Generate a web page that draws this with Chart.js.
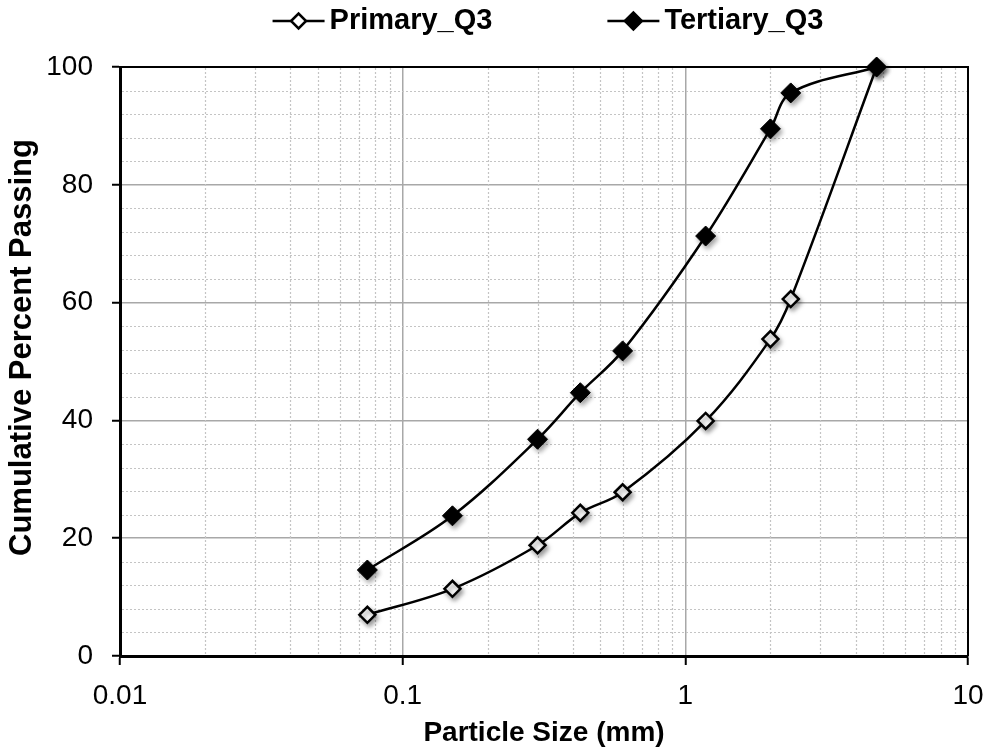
<!DOCTYPE html>
<html>
<head>
<meta charset="utf-8">
<title>Particle size distribution</title>
<script src="https://cdn.jsdelivr.net/npm/chart.js@4.4.1/dist/chart.umd.min.js"></script>
<style>
  html, body { margin: 0; padding: 0; background: #fff; }
</style>
</head>
<body>
<canvas id="psd" width="992" height="756"></canvas>
<script>
// sieve openings (mm) and cumulative % passing
const sieveSizes = [0.075, 0.15, 0.3, 0.425, 0.6, 1.18, 2.0, 2.36, 4.75];
const primaryQ3 = [7.0, 11.4, 18.8, 24.3, 27.8, 39.9, 53.8, 60.6, 100];
const tertiaryQ3 = [14.6, 23.8, 36.8, 44.7, 51.8, 71.3, 89.5, 95.6, 100];
const seriesNames = ['Primary_Q3', 'Tertiary_Q3'];
const xTicks = [0.01, 0.1, 1, 10];
const yTicks = [0, 20, 40, 60, 80, 100];
const yTitle = 'Cumulative Percent Passing';

const FONT = 'Arial, "Liberation Sans", sans-serif';
Chart.defaults.font.family = FONT;
Chart.defaults.color = '#000';

const pts = vals => sieveSizes.map((s, i) => ({ x: s, y: vals[i] }));

// dotted minor grid + top/right frame
const frame = {
  id: 'frame',
  beforeDatasetsDraw(chart) {
    const { ctx, chartArea: a, scales: { x, y } } = chart;
    ctx.save();
    ctx.strokeStyle = '#c4c4c4';
    ctx.lineWidth = 1.2;
    ctx.setLineDash([2, 2]);
    ctx.beginPath();
    for (let v = 4; v < 100; v += 4) {
      if (v % 20 === 0) continue;
      const py = Math.round(y.getPixelForValue(v)) + 0.5;
      ctx.moveTo(a.left + 2, py);
      ctx.lineTo(a.right - 1, py);
    }
    for (const d of [0.01, 0.1, 1]) {
      for (let k = 2; k <= 9; k++) {
        const px = Math.round(x.getPixelForValue(d * k)) + 0.5;
        ctx.moveTo(px, a.top + 1);
        ctx.lineTo(px, a.bottom - 2);
      }
    }
    ctx.stroke();
    ctx.setLineDash([]);
    ctx.strokeStyle = '#000';
    ctx.lineWidth = 2;
    ctx.beginPath();
    ctx.moveTo(a.left, a.top);
    ctx.lineTo(a.right, a.top);
    ctx.lineTo(a.right, a.bottom);
    ctx.stroke();
    ctx.restore();
  }
};

// soft shadow under the markers only
const markerShadow = {
  id: 'markerShadow',
  beforeDatasetDraw(chart, args) {
    if (chart.data.datasets[args.index].showLine) return;
    const ctx = chart.ctx;
    ctx.save();
    ctx.shadowColor = 'rgba(0,0,0,0.38)';
    ctx.shadowBlur = 5;
    ctx.shadowOffsetX = 2;
    ctx.shadowOffsetY = 3;
  },
  afterDatasetDraw(chart, args) {
    if (chart.data.datasets[args.index].showLine) return;
    chart.ctx.restore();
  }
};

// line + marker legend across the top, and the rotated y title
const seriesKey = {
  id: 'seriesKey',
  afterDraw(chart) {
    const { ctx, chartArea: a } = chart;
    ctx.save();
    ctx.font = 'bold 29px ' + FONT;
    ctx.textBaseline = 'middle';
    ctx.fillStyle = '#000';
    const symW = 52, gap = 5, itemGap = 115, y = 21;
    const widths = seriesNames.map(n => symW + gap + ctx.measureText(n).width);
    const total = widths.reduce((p, c) => p + c, 0) + itemGap * (widths.length - 1);
    let x = (a.left + a.right) / 2 + 4 - total / 2;
    seriesNames.forEach((name, i) => {
      ctx.strokeStyle = '#000';
      ctx.lineWidth = 2.5;
      ctx.beginPath();
      ctx.moveTo(x, y);
      ctx.lineTo(x + symW, y);
      ctx.stroke();
      const filled = i === 1;
      ctx.fillStyle = filled ? '#000' : '#fff';
      Chart.helpers.drawPoint(ctx, { pointStyle: 'rectRot', radius: filled ? 8.5 : 7.5, borderWidth: filled ? 1 : 2.5, rotation: 0 }, x + symW / 2, y);
      ctx.fillStyle = '#000';
      ctx.fillText(name, x + symW + gap, y);
      x += widths[i] + itemGap;
    });

    ctx.translate(22, (a.top + a.bottom) / 2 - 14);
    ctx.rotate(-Math.PI / 2);
    ctx.font = 'bold 31px ' + FONT;
    ctx.textAlign = 'center';
    ctx.fillText(yTitle, 0, 0);
    ctx.restore();
  }
};

new Chart(document.getElementById('psd'), {
  type: 'scatter',
  data: {
    datasets: [
      { label: seriesNames[1], data: pts(tertiaryQ3), showLine: false, pointStyle: 'rectRot',
        pointRadius: 10, pointBackgroundColor: '#000', pointBorderColor: '#000', pointBorderWidth: 1, order: 0, clip: false },
      { label: seriesNames[0], data: pts(primaryQ3), showLine: false, pointStyle: 'rectRot',
        pointRadius: 8, pointBackgroundColor: '#fff', pointBorderColor: '#000', pointBorderWidth: 2.5, order: 1, clip: false },
      { label: seriesNames[1], data: pts(tertiaryQ3), showLine: true, pointRadius: 0,
        borderColor: '#000', borderWidth: 2.5, tension: 0.35, order: 2, clip: false },
      { label: seriesNames[0], data: pts(primaryQ3), showLine: true, pointRadius: 0,
        borderColor: '#000', borderWidth: 2.5, tension: 0.35, order: 3, clip: false }
    ]
  },
  options: {
    responsive: false,
    animation: false,
    events: [],
    layout: { autoPadding: false, padding: { top: 67, right: 24, left: 0, bottom: 0 } },
    plugins: { legend: { display: false }, tooltip: { enabled: false } },
    scales: {
      x: {
        type: 'logarithmic',
        min: 0.01,
        max: 10,
        afterBuildTicks: s => { s.ticks = xTicks.map(v => ({ value: v })); },
        afterFit: s => { s.height = 100; s.paddingLeft = 0; s.paddingRight = 0; },
        ticks: { callback: v => String(v), font: { size: 28 }, color: '#000', padding: 14, maxRotation: 0, autoSkip: false },
        grid: { color: '#a8a8a8', lineWidth: 1.5, tickLength: 9, tickColor: '#000', tickWidth: 2 },
        border: { color: '#000', width: 3 },
        title: { display: true, text: 'Particle Size (mm)', font: { size: 28, weight: 'bold' }, padding: { top: 0, bottom: 6 } }
      },
      y: {
        min: 0,
        max: 100,
        afterBuildTicks: s => { s.ticks = yTicks.map(v => ({ value: v })); },
        afterFit: s => { s.width = 120; s.paddingTop = 0; s.paddingBottom = 0; },
        ticks: { font: { size: 28 }, color: '#000', padding: 19 },
        grid: { color: '#a8a8a8', lineWidth: 1.5, tickLength: 8, tickColor: '#000', tickWidth: 2 },
        border: { color: '#000', width: 3 }
      }
    }
  },
  plugins: [frame, markerShadow, seriesKey]
});
</script>
</body>
</html>
